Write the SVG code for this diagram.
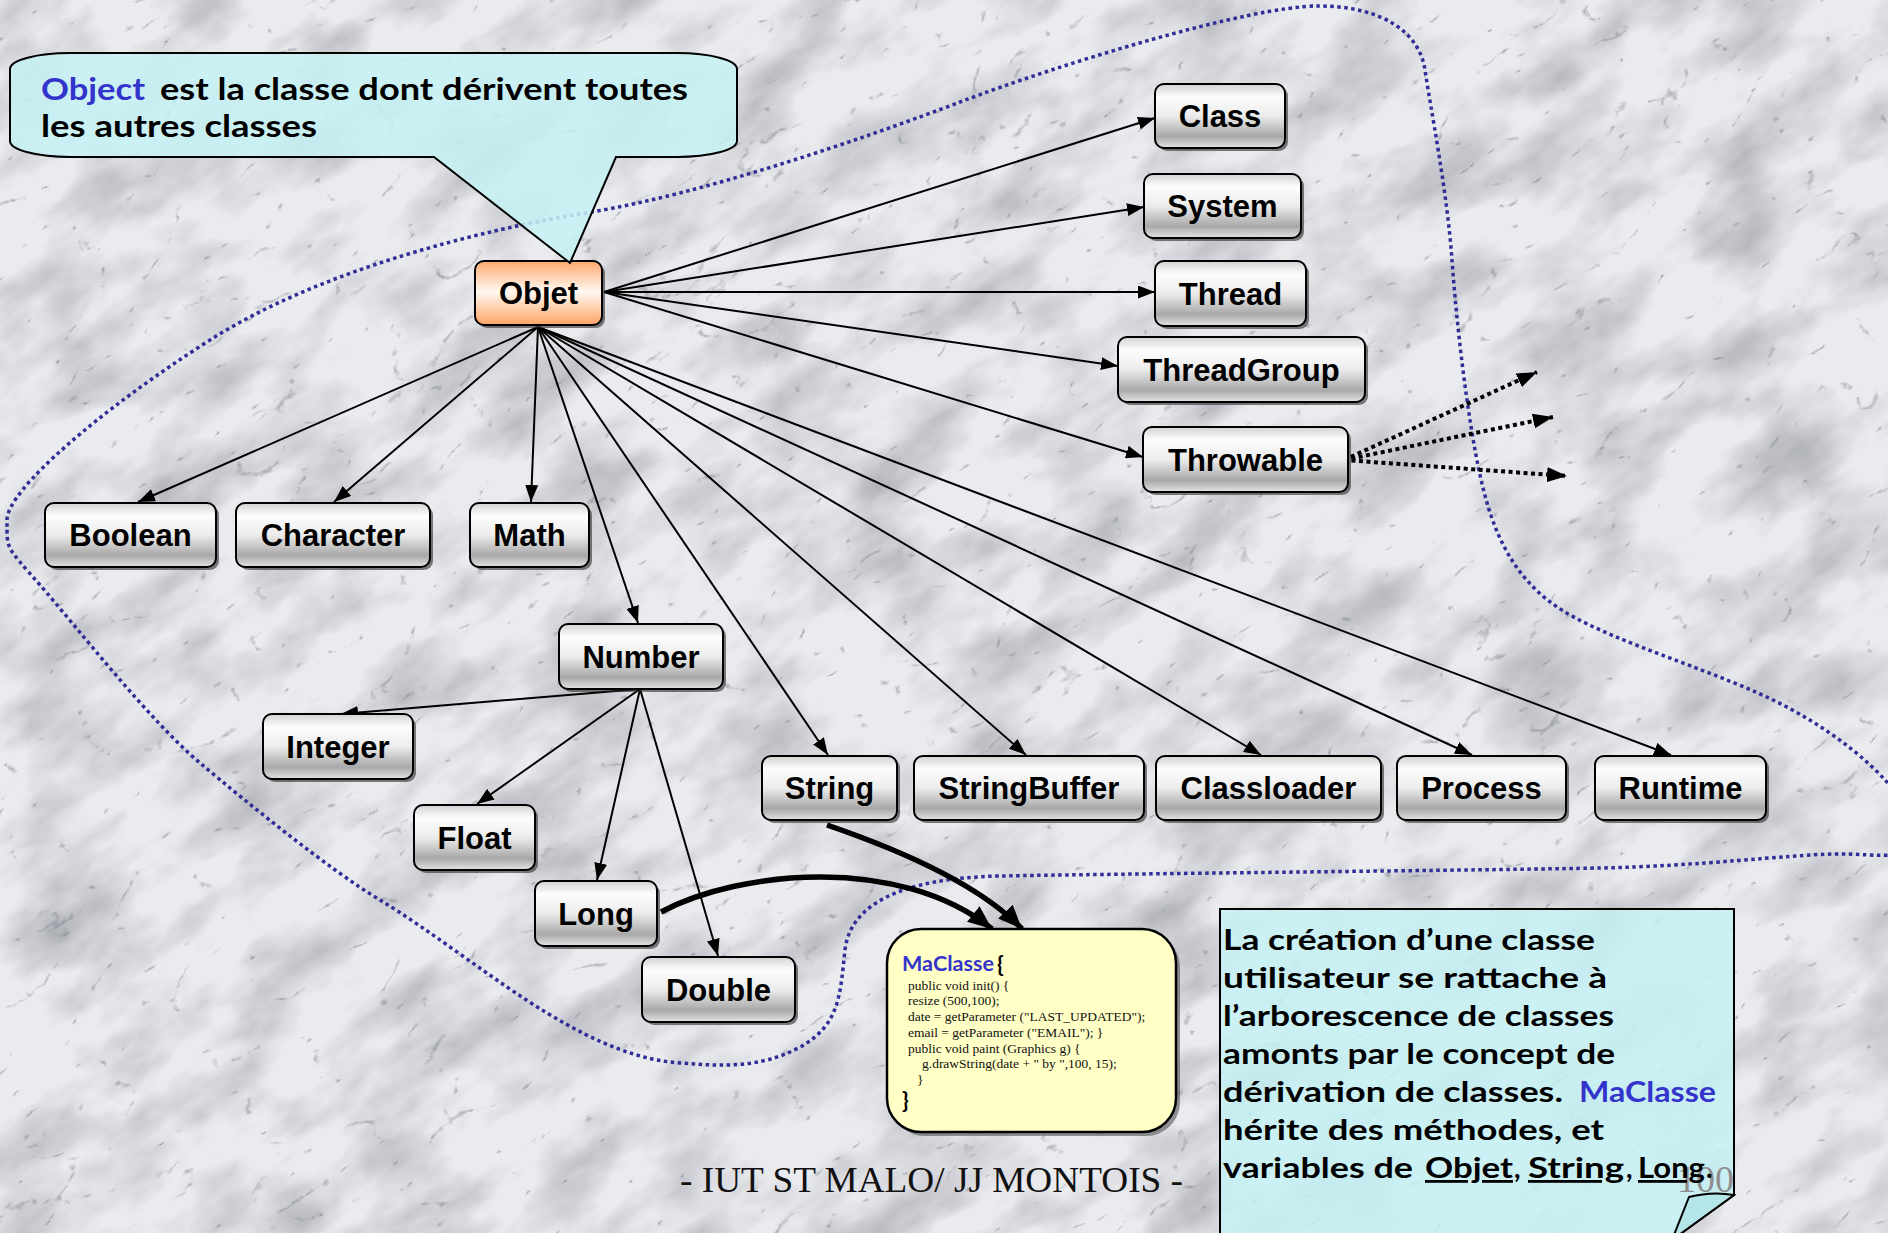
<svg xmlns="http://www.w3.org/2000/svg" width="1888" height="1233" viewBox="0 0 1888 1233">
  <defs>
    <style>
      .bg { fill: #eaebef; }
      .loop { fill: none; stroke: #2e2e96; stroke-width: 3.5; stroke-dasharray: 3.5 3.5; }
      .link { fill: none; stroke: #000; stroke-width: 2; marker-end: url(#arr); }
      .dotted { fill: none; stroke: #000; stroke-width: 4; stroke-dasharray: 4 3.5; marker-end: url(#arrD); }
      .thick { fill: none; stroke: #000; stroke-width: 5.5; marker-end: url(#arrT); }
      .shadow { fill: #2c2c2c; opacity: 0.6; }
      .box { fill: url(#metal); stroke: #000; stroke-width: 2; }
      .box.root { fill: url(#orange); }
      .node text { font-family: "Liberation Sans", Arial, sans-serif; font-weight: bold; font-size: 31px; text-anchor: middle; fill: #000; }
      .bubble { fill: #c6f2f4; fill-opacity: 0.85; stroke: #000; stroke-width: 2; }
      .note { font-family: Lato, "DejaVu Sans", sans-serif; font-weight: bold; fill: #000; }
      .blue { fill: #3434cc; }
      .code { font-family: "Liberation Serif", "Times New Roman", serif; font-size: 13.5px; fill: #111; }
    </style>
    <linearGradient id="metal" x1="0" y1="0" x2="0" y2="1">
      <stop offset="0" stop-color="#d2d2d2"/>
      <stop offset="0.2" stop-color="#fdfdfd"/>
      <stop offset="0.5" stop-color="#ececec"/>
      <stop offset="0.82" stop-color="#a8a8a8"/>
      <stop offset="1" stop-color="#e4e4e4"/>
    </linearGradient>
    <linearGradient id="orange" x1="0" y1="0" x2="0" y2="1">
      <stop offset="0" stop-color="#ffa86e"/>
      <stop offset="0.48" stop-color="#fff8f1"/>
      <stop offset="1" stop-color="#ffa364"/>
    </linearGradient>
    <!-- soft cloudy patches of the marble -->
    <filter id="clouds" x="0" y="0" width="1" height="1" color-interpolation-filters="sRGB">
      <feTurbulence type="fractalNoise" baseFrequency="0.009 0.018" numOctaves="4" seed="3"/>
      <feColorMatrix type="matrix" values="0 0 0 0 0.58  0 0 0 0 0.59  0 0 0 0 0.62  1.3 0 0 0 -0.52"/>
    </filter>
    <!-- thin grey veins of the marble -->
    <filter id="veins" x="0" y="0" width="1" height="1" color-interpolation-filters="sRGB">
      <feTurbulence type="turbulence" baseFrequency="0.011 0.02" numOctaves="6" seed="11"/>
      <feColorMatrix type="matrix" values="0 0 0 0 0.38  0 0 0 0 0.39  0 0 0 0 0.43  -5 0 0 0 0.56"/>
    </filter>
    <marker id="arr" markerUnits="userSpaceOnUse" markerWidth="17" markerHeight="13" refX="17" refY="6.5" orient="auto">
      <path d="M0,0 L17,6.5 L0,13 Z" fill="#000"/>
    </marker>
    <marker id="arrD" markerUnits="userSpaceOnUse" markerWidth="20" markerHeight="15" refX="20" refY="7.5" orient="auto">
      <path d="M0,0 L20,7.5 L0,15 Z" fill="#000"/>
    </marker>
    <marker id="arrT" markerUnits="userSpaceOnUse" markerWidth="24" markerHeight="20" refX="24" refY="10" orient="auto">
      <path d="M0,0 L24,10 L0,20 Z" fill="#000"/>
    </marker>
  </defs>

  <!-- marble backdrop -->
  <rect class="bg" x="0" y="0" width="1888" height="1233"/>
  <g transform="rotate(-35 944 616)">
    <rect x="-500" y="-700" width="2900" height="2650" filter="url(#clouds)"/>
    <rect x="-500" y="-700" width="2900" height="2650" filter="url(#veins)"/>
  </g>

  <!-- dotted outline grouping the classes of the hierarchy -->
  <path id="scope" class="loop" d="M7,520 C7,490 100,410 210,340 S480,230 591,212 S860,140 960,102 S1250,6 1318,6 S1420,35 1425,70 S1447,190 1452,260 S1468,420 1480,475 S1512,580 1565,612 S1720,672 1785,706 S1905,790 1915,828 S1880,853 1833,854 S1700,866 1600,868 S1100,874 1000,876 S850,905 845,950 S840,1025 800,1047 S720,1066 680,1063 S600,1045 547,1013 S430,930 380,900 S250,805 200,763 S75,625 40,585 S7,550 7,520 Z"/>

  <!-- connectors -->
  <g id="connectors">
    <path class="link" d="M604,292 L1155,118"/>
    <path class="link" d="M604,292 L1144,207"/>
    <path class="link" d="M604,292 L1155,292"/>
    <path class="link" d="M604,292 L1118,366"/>
    <path class="link" d="M604,292 L1143,457"/>
    <path class="link" d="M538,327 L138,502"/>
    <path class="link" d="M538,327 L334,502"/>
    <path class="link" d="M538,327 L531,502"/>
    <path class="link" d="M538,327 L638,623"/>
    <path class="link" d="M538,327 L828,755"/>
    <path class="link" d="M538,327 L1026,755"/>
    <path class="link" d="M538,327 L1261,755"/>
    <path class="link" d="M538,327 L1472,755"/>
    <path class="link" d="M538,327 L1671,755"/>
    <path class="link" d="M640,689 L341,714"/>
    <path class="link" d="M640,689 L477,804"/>
    <path class="link" d="M640,689 L597,880"/>
    <path class="link" d="M640,689 L718,956"/>
    <path class="dotted" d="M1344,460 L1537,372"/>
    <path class="dotted" d="M1344,460 L1553,417"/>
    <path class="dotted" d="M1344,460 L1567,476"/>
    <path class="thick" d="M661,912 C740,870 900,855 992,929"/>
    <path class="thick" d="M827,825 C900,850 980,885 1022,929"/>
  </g>

  <!-- class nodes -->
  <g id="node-objet" class="node"><rect class="shadow" x="478" y="264" width="127" height="64" rx="9"/><rect class="box root" x="475" y="261" width="127" height="64" rx="9"/><text x="538.5" y="304">Objet</text></g>
  <g id="node-class" class="node"><rect class="shadow" x="1158" y="87" width="130" height="64" rx="9"/><rect class="box" x="1155" y="84" width="130" height="64" rx="9"/><text x="1220" y="127">Class</text></g>
  <g id="node-system" class="node"><rect class="shadow" x="1147" y="177" width="157" height="64" rx="9"/><rect class="box" x="1144" y="174" width="157" height="64" rx="9"/><text x="1222.5" y="217">System</text></g>
  <g id="node-thread" class="node"><rect class="shadow" x="1158" y="264" width="151" height="65" rx="9"/><rect class="box" x="1155" y="261" width="151" height="65" rx="9"/><text x="1230.5" y="304.5">Thread</text></g>
  <g id="node-threadgroup" class="node"><rect class="shadow" x="1121" y="340" width="247" height="65" rx="9"/><rect class="box" x="1118" y="337" width="247" height="65" rx="9"/><text x="1241.5" y="380.5">ThreadGroup</text></g>
  <g id="node-throwable" class="node"><rect class="shadow" x="1146" y="430" width="205" height="65" rx="9"/><rect class="box" x="1143" y="427" width="205" height="65" rx="9"/><text x="1245.5" y="470.5">Throwable</text></g>
  <g id="node-boolean" class="node"><rect class="shadow" x="48" y="506" width="171" height="64" rx="9"/><rect class="box" x="45" y="503" width="171" height="64" rx="9"/><text x="130.5" y="546">Boolean</text></g>
  <g id="node-character" class="node"><rect class="shadow" x="239" y="506" width="194" height="64" rx="9"/><rect class="box" x="236" y="503" width="194" height="64" rx="9"/><text x="333" y="546">Character</text></g>
  <g id="node-math" class="node"><rect class="shadow" x="473" y="506" width="119" height="64" rx="9"/><rect class="box" x="470" y="503" width="119" height="64" rx="9"/><text x="529.5" y="546">Math</text></g>
  <g id="node-number" class="node"><rect class="shadow" x="562" y="627" width="164" height="65" rx="9"/><rect class="box" x="559" y="624" width="164" height="65" rx="9"/><text x="641" y="667.5">Number</text></g>
  <g id="node-integer" class="node"><rect class="shadow" x="266" y="717" width="150" height="65" rx="9"/><rect class="box" x="263" y="714" width="150" height="65" rx="9"/><text x="338" y="757.5">Integer</text></g>
  <g id="node-float" class="node"><rect class="shadow" x="417" y="808" width="121" height="65" rx="9"/><rect class="box" x="414" y="805" width="121" height="65" rx="9"/><text x="474.5" y="848.5">Float</text></g>
  <g id="node-long" class="node"><rect class="shadow" x="538" y="884" width="122" height="65" rx="9"/><rect class="box" x="535" y="881" width="122" height="65" rx="9"/><text x="596" y="924.5">Long</text></g>
  <g id="node-double" class="node"><rect class="shadow" x="645" y="960" width="153" height="65" rx="9"/><rect class="box" x="642" y="957" width="153" height="65" rx="9"/><text x="718.5" y="1000.5">Double</text></g>
  <g id="node-string" class="node"><rect class="shadow" x="765" y="759" width="135" height="64" rx="9"/><rect class="box" x="762" y="756" width="135" height="64" rx="9"/><text x="829.5" y="799">String</text></g>
  <g id="node-stringbuffer" class="node"><rect class="shadow" x="917" y="759" width="230" height="64" rx="9"/><rect class="box" x="914" y="756" width="230" height="64" rx="9"/><text x="1029" y="799">StringBuffer</text></g>
  <g id="node-classloader" class="node"><rect class="shadow" x="1159" y="759" width="225" height="64" rx="9"/><rect class="box" x="1156" y="756" width="225" height="64" rx="9"/><text x="1268.5" y="799">Classloader</text></g>
  <g id="node-process" class="node"><rect class="shadow" x="1400" y="759" width="169" height="64" rx="9"/><rect class="box" x="1397" y="756" width="169" height="64" rx="9"/><text x="1481.5" y="799">Process</text></g>
  <g id="node-runtime" class="node"><rect class="shadow" x="1598" y="759" width="171" height="64" rx="9"/><rect class="box" x="1595" y="756" width="171" height="64" rx="9"/><text x="1680.5" y="799">Runtime</text></g>

  <!-- speech bubble pointing at Objet -->
  <g id="note-object">
    <path class="bubble" d="M70,53 H677 A60 16 0 0 1 737,69 V141 A60 16 0 0 1 677,157 H616 L570,263 L434,157 H70 A60 16 0 0 1 10,141 V69 A60 16 0 0 1 70,53 Z"/>
    <text class="note blue" x="41" y="100" font-size="31" textLength="104" lengthAdjust="spacingAndGlyphs">Object</text>
    <text class="note" x="160" y="100" font-size="31" textLength="528" lengthAdjust="spacingAndGlyphs">est la classe dont dérivent toutes</text>
    <text class="note" x="41" y="137" font-size="31" textLength="276" lengthAdjust="spacingAndGlyphs">les autres classes</text>
  </g>

  <!-- user class -->
  <g id="node-maclasse">
    <rect x="891" y="933" width="289" height="203" rx="34" fill="#444" opacity="0.55"/>
    <rect x="887" y="929" width="289" height="203" rx="34" fill="#ffffc6" stroke="#000" stroke-width="2.5"/>
    <text class="note blue" x="902" y="971" font-size="20" textLength="92" lengthAdjust="spacingAndGlyphs">MaClasse</text>
    <text class="note" x="997" y="972" font-size="22">{</text>
    <text class="code" x="908" y="990">public void init() {</text>
    <text class="code" x="908" y="1005">resize (500,100);</text>
    <text class="code" x="908" y="1021">date = getParameter ("LAST_UPDATED");</text>
    <text class="code" x="908" y="1037">email = getParameter ("EMAIL"); }</text>
    <text class="code" x="908" y="1053">public void paint (Graphics g) {</text>
    <text class="code" x="922" y="1068">g.drawString(date + " by ",100, 15);</text>
    <text class="code" x="917" y="1084">}</text>
    <text class="note" x="902" y="1108" font-size="22">}</text>
  </g>

  <!-- folded note on the right -->
  <g id="note-derivation">
    <path class="bubble" d="M1220,909 H1734 V1195 L1672,1240 H1220 Z"/>
    <path d="M1689,1197 Q1712,1191 1734,1195 L1672,1240 Z" fill="#b4e6e8" stroke="#000" stroke-width="2"/>
    <text x="1677" y="1192" font-family="'Liberation Serif', serif" font-size="38" fill="#8e8e8e">100</text>
    <text class="note" x="1223" y="950" font-size="28" textLength="372" lengthAdjust="spacingAndGlyphs">La création d’une classe</text>
    <text class="note" x="1223" y="988" font-size="28" textLength="384" lengthAdjust="spacingAndGlyphs">utilisateur se rattache à</text>
    <text class="note" x="1223" y="1026" font-size="28" textLength="391" lengthAdjust="spacingAndGlyphs">l’arborescence de classes</text>
    <text class="note" x="1223" y="1064" font-size="28" textLength="392" lengthAdjust="spacingAndGlyphs">amonts par le concept de</text>
    <text class="note" x="1223" y="1102" font-size="28" textLength="340" lengthAdjust="spacingAndGlyphs">dérivation de classes.</text>
    <text class="note blue" x="1579" y="1102" font-size="28" textLength="137" lengthAdjust="spacingAndGlyphs">MaClasse</text>
    <text class="note" x="1223" y="1140" font-size="28" textLength="381" lengthAdjust="spacingAndGlyphs">hérite des méthodes, et</text>
    <text class="note" x="1223" y="1178" font-size="28" textLength="190" lengthAdjust="spacingAndGlyphs">variables de</text>
    <text class="note" x="1425" y="1178" font-size="28" text-decoration="underline" textLength="88" lengthAdjust="spacingAndGlyphs">Objet</text>
    <text class="note" x="1514" y="1178" font-size="28">,</text>
    <text class="note" x="1528" y="1178" font-size="28" text-decoration="underline" textLength="96" lengthAdjust="spacingAndGlyphs">String</text>
    <text class="note" x="1626" y="1178" font-size="28">,</text>
    <text class="note" x="1638" y="1178" font-size="28" text-decoration="underline" textLength="67" lengthAdjust="spacingAndGlyphs">Long</text>
    <text class="note" x="1706" y="1178" font-size="28">.</text>
  </g>

  <!-- footer -->
  <text x="680" y="1192" font-family="'Liberation Serif', 'Times New Roman', serif" font-size="36" fill="#111" textLength="503" lengthAdjust="spacingAndGlyphs">- IUT ST MALO/ JJ MONTOIS -</text>
</svg>
